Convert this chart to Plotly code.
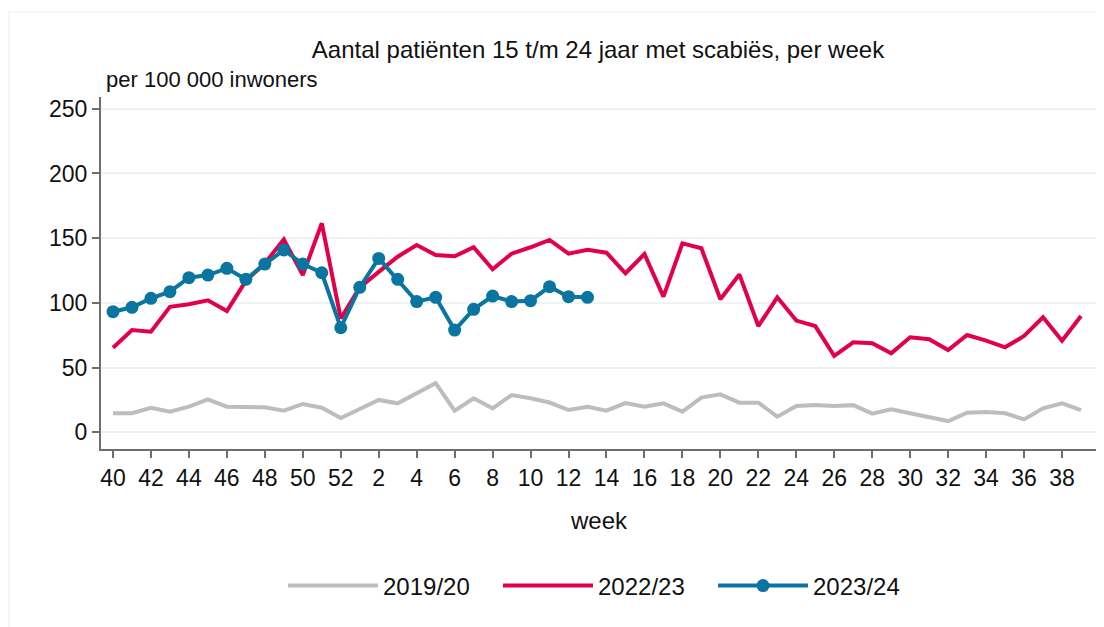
import plotly.graph_objects as go

weeks = [str(w) for w in list(range(40, 53)) + list(range(1, 40))]

s2019 = [14.7, 14.7, 19, 16, 19.8, 25.5, 19.8, 19.3, 19.3, 16.7, 21.9, 19, 11,
         18, 25, 22.4, 30, 38, 16.7, 26.3, 18.5, 28.8, 26.3, 23, 17.2, 19.8,
         16.7, 22.6, 19.8, 22.4, 16, 26.8, 29.3, 22.9, 22.9, 12.1, 20.3, 21.1,
         20.3, 21, 14.4, 17.8, 14.7, 11.6, 8.7, 15.2, 15.7, 14.7, 10, 18.5, 22.4, 17.2]

s2022 = [65.4, 79, 77.8, 97, 99, 102, 93.7, 117, 130.6, 149, 121.5, 161.5, 88,
         112, 124, 135.7, 144.7, 137, 136, 143, 126, 138, 143, 148.6, 138, 141,
         138.8, 122.9, 137.8, 104.8, 146, 142.2, 102.8, 122, 82.1, 104.3, 86.3, 82.1,
         59, 69.5, 68.8, 61, 73.4, 71.9, 63.6, 75.2, 70.8, 65.7, 74.4, 88.9, 70.8, 89.9]

s2023 = [93.2, 96.6, 103.5, 108.7, 119.5, 121.5, 126.7, 118.2, 130, 140.9, 130, 123.3, 80.8,
         112, 134.4, 118.2, 101, 104.3, 79, 95, 105.3, 101, 101.7, 112.5, 104.8, 104.3]

tick_weeks = [str(w) for w in list(range(40, 53, 2)) + list(range(2, 39, 2))]
y_ticks = [0, 50, 100, 150, 200, 250]

FONT = "Arial, 'Liberation Sans', sans-serif"
C_GRAY = "#bdbdbd"
C_RED = "#e2004a"
C_BLUE = "#0a75a0"

# page body has an 8px margin; figure is shrunk/shifted to compensate
W, H = 1096, 619
OFF = 8

fig = go.Figure()
fig.add_trace(go.Scatter(x=weeks, y=s2019, mode="lines", name="2019/20",
                         line=dict(color=C_GRAY, width=4)))
fig.add_trace(go.Scatter(x=weeks, y=s2022, mode="lines", name="2022/23",
                         line=dict(color=C_RED, width=4)))
fig.add_trace(go.Scatter(x=weeks[:len(s2023)], y=s2023, mode="lines+markers", name="2023/24",
                         line=dict(color=C_BLUE, width=4),
                         marker=dict(color=C_BLUE, size=13)))

fig.update_layout(
    width=W, height=H,
    margin=dict(l=101 - OFF, r=8, t=97 - OFF, b=H - (449 - OFF)),
    paper_bgcolor="white", plot_bgcolor="white",
    font=dict(family=FONT, size=22, color="#111111"),
    title=dict(text="Aantal patiënten 15 t/m 24 jaar met scabiës, per week",
               x=(598 - OFF) / W, xanchor="center", y=1 - (50 - OFF) / H, yanchor="middle",
               yref="container", font=dict(size=24, color="#111111")),
    showlegend=True,
    legend=dict(orientation="h", x=0.5 + 7 / 995, xanchor="center", y=-(586 - 449) / 352,
                yanchor="middle", itemwidth=90, entrywidth=110, entrywidthmode="pixels",
                font=dict(size=24), bgcolor="rgba(0,0,0,0)"),
    xaxis=dict(type="category", categoryorder="array", categoryarray=weeks,
               range=[-0.632, 51.79], tickmode="array", tickvals=tick_weeks,
               ticktext=tick_weeks, ticks="outside", ticklen=7, tickwidth=2,
               tickcolor="#6e6e6e", showline=True, linecolor="#6e6e6e", linewidth=2,
               showgrid=False, zeroline=False, tickfont=dict(size=23)),
    yaxis=dict(range=[-12.9, 259.1], tickmode="array", tickvals=y_ticks,
               ticks="outside", ticklen=7, tickwidth=2, tickcolor="#6e6e6e",
               showline=True, linecolor="#6e6e6e", linewidth=2,
               showgrid=True, gridcolor="#edf3f3", gridwidth=2, zeroline=False,
               tickfont=dict(size=23)),
    annotations=[
        dict(text="per 100 000 inwoners", xref="paper", yref="paper",
             x=(104 - 101) / 995, xanchor="left", y=1 + 17 / 352, yanchor="middle",
             showarrow=False, font=dict(size=22)),
        dict(text="week", xref="paper", yref="paper", x=0.5, xanchor="center",
             y=-(520 - 449) / 352, yanchor="middle", showarrow=False,
             font=dict(size=24)),
    ],
    shapes=[
        dict(type="rect", xref="paper", yref="paper",
             x0=(9 - 101) / 995, x1=(1120 - 101) / 995,
             y0=-(640 - 449) / 352, y1=1 + (97 - 12) / 352,
             line=dict(color="#eeeeee", width=1), layer="below"),
    ],
)

fig.write_html("out.html")
